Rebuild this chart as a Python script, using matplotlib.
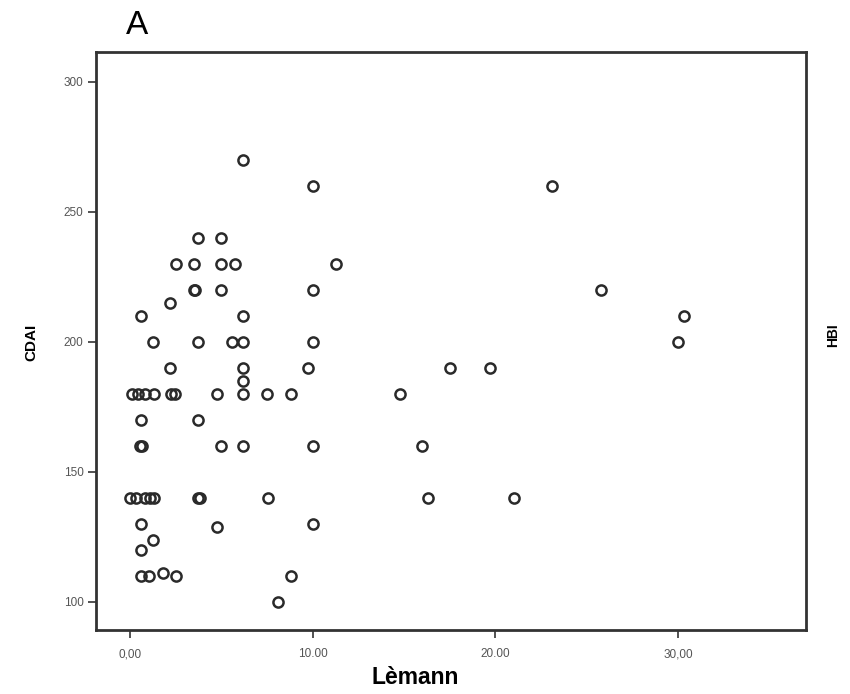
import matplotlib
matplotlib.use("Agg")
import matplotlib.pyplot as plt

# Lemann index vs CDAI
lemann = [6.2,
          10.0, 23.1,
          3.7, 5.0,
          2.5, 3.5, 5.0, 5.75, 11.3,
          3.5, 3.55, 5.0, 10.0, 25.8,
          2.2,
          0.6, 6.2, 30.3,
          1.25, 3.75, 5.6, 6.2, 10.0, 30.0,
          2.2, 6.2, 9.75, 17.5, 19.7,
          6.2,
          0.1, 0.45, 0.8, 1.3, 2.25, 2.45, 4.75, 6.2, 7.5, 8.8, 14.8,
          0.6, 3.75,
          0.55, 0.65, 5.0, 6.2, 10.0, 16.0,
          0.0, 0.35, 0.8, 1.1, 1.3, 3.75, 3.85, 7.55, 16.3, 21.0,
          0.6, 10.0,
          4.75,
          1.25,
          0.6,
          1.8,
          0.6, 1.05, 2.5, 8.8,
          8.1]
cdai = [270,
        260, 260,
        240, 240,
        230, 230, 230, 230, 230,
        220, 220, 220, 220, 220,
        215,
        210, 210, 210,
        200, 200, 200, 200, 200, 200,
        190, 190, 190, 190, 190,
        185,
        180, 180, 180, 180, 180, 180, 180, 180, 180, 180, 180,
        170, 170,
        160, 160, 160, 160, 160, 160,
        140, 140, 140, 140, 140, 140, 140, 140, 140, 140,
        130, 130,
        129,
        124,
        120,
        111,
        110, 110, 110, 110,
        100]

x_ticks = [0, 10, 20, 30]
x_tick_labels = ["0,00", "10.00", "20.00", "30,00"]
y_ticks = [100, 150, 200, 250, 300]

plt.rcParams['font.family'] = ['Liberation Sans', 'DejaVu Sans']

fig = plt.figure(figsize=(8.5, 6.94), dpi=100)
ax = fig.add_axes([96/850, 1 - 630/694, (806-96)/850, (630-52)/694])

ax.plot(lemann, cdai, linestyle='none', marker='o', markersize=7.3,
        markerfacecolor='none', markeredgecolor='#2a2a2a', markeredgewidth=1.8)

ax.set_xlim(-1.86, 37.0)
ax.set_ylim(89.2, 311.5)
ax.set_xticks(x_ticks)
ax.set_xticklabels(x_tick_labels)
ax.set_yticks(y_ticks)
ax.tick_params(direction='out', length=6, width=1.2, colors='#333333',
               labelsize=8.5, labelcolor='#555555')
ax.tick_params(axis='x', pad=7)
ax.tick_params(axis='y', pad=3)

for s in ax.spines.values():
    s.set_linewidth(2)
    s.set_color('#333333')

# labels placed by hand like in the original figure
fig.text(137/850, 1 - 25/694, "A", fontsize=24, ha='center', va='center')
fig.text(31/850, 1 - 342/694, "CDAI", fontsize=11, fontweight='bold',
         rotation=90, ha='center', va='center')
fig.text(415/850, 1 - 678/694, "Lèmann", fontsize=16.5, fontweight='bold',
         ha='center', va='center')
fig.text(833/850, 1 - 335/694, "HBI", fontsize=10, fontweight='bold',
         rotation=90, ha='center', va='center')

fig.savefig("out.png", dpi=100)
